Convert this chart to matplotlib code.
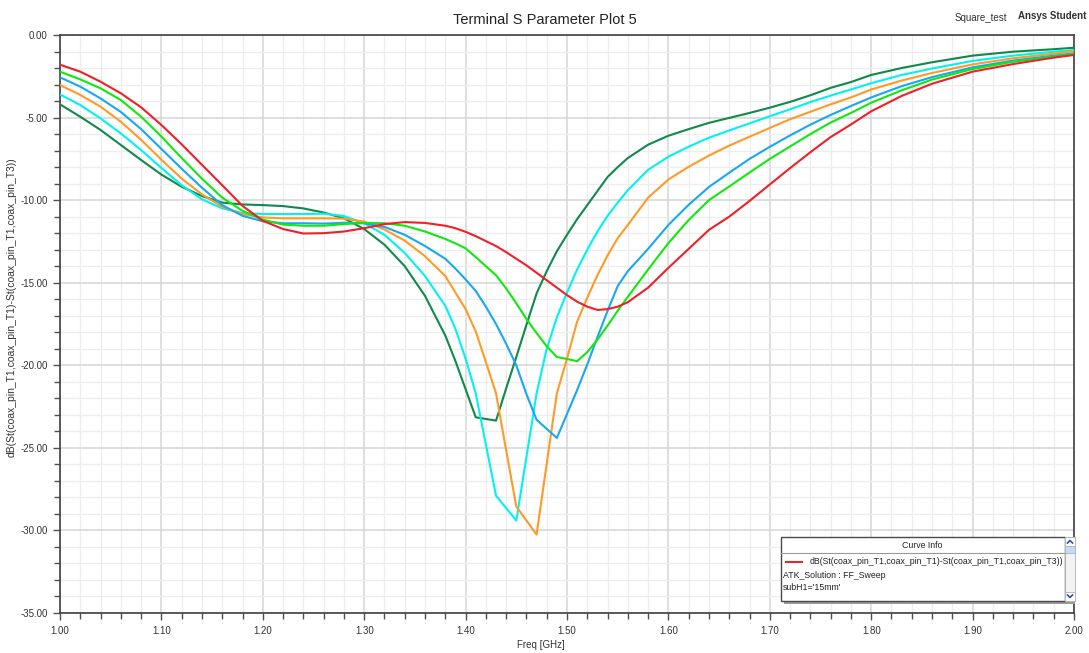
import matplotlib
matplotlib.use("Agg")
import matplotlib.pyplot as plt
from matplotlib.ticker import MultipleLocator, FormatStrFormatter
from matplotlib.patches import Rectangle

plt.rcParams['font.family'] = ['Liberation Sans', 'DejaVu Sans']

# ---------------- data ----------------
freq = [1.00, 1.02, 1.04, 1.06, 1.08, 1.10, 1.12, 1.14, 1.16, 1.18,
        1.20, 1.22, 1.24, 1.26, 1.28, 1.30, 1.32, 1.34, 1.36, 1.38,
        1.39, 1.40, 1.41, 1.42, 1.43, 1.44, 1.45, 1.46, 1.47, 1.48,
        1.49, 1.50, 1.51, 1.52, 1.53, 1.54, 1.55, 1.56, 1.58, 1.60,
        1.62, 1.64, 1.66, 1.68, 1.70, 1.72, 1.74, 1.76, 1.78, 1.80,
        1.83, 1.86, 1.90, 1.94, 1.98, 2.00]

db_red = [-1.80, -2.22, -2.83, -3.53, -4.38, -5.45, -6.62, -7.86, -9.10, -10.35,
          -11.25, -11.75, -12.02, -12.00, -11.90, -11.70, -11.45, -11.33, -11.38, -11.55,
          -11.70, -11.92, -12.18, -12.48, -12.78, -13.15, -13.55, -13.95, -14.40, -14.85,
          -15.30, -15.75, -16.15, -16.45, -16.65, -16.60, -16.45, -16.18, -15.30, -14.10,
          -12.95, -11.80, -11.00, -10.05, -9.05, -8.06, -7.10, -6.18, -5.42, -4.62,
          -3.69, -2.95, -2.22, -1.76, -1.37, -1.21]

db_green = [-2.22, -2.69, -3.23, -3.94, -4.95, -6.15, -7.45, -8.70, -9.85, -10.65,
            -11.18, -11.48, -11.55, -11.55, -11.45, -11.38, -11.40, -11.55, -11.90, -12.35,
            -12.62, -12.92, -13.45, -14.00, -14.55, -15.35, -16.25, -17.20, -18.05, -18.85,
            -19.50, -19.62, -19.75, -19.20, -18.45, -17.60, -16.70, -15.85, -14.20, -12.60,
            -11.20, -10.00, -9.17, -8.33, -7.50, -6.75, -6.00, -5.30, -4.72, -4.10,
            -3.35, -2.70, -2.06, -1.62, -1.31, -1.15]

db_blue = [-2.56, -3.13, -3.84, -4.66, -5.70, -6.90, -8.10, -9.25, -10.30, -10.95,
           -11.28, -11.40, -11.40, -11.42, -11.37, -11.40, -11.62, -12.10, -12.78, -13.55,
           -14.15, -14.80, -15.50, -16.45, -17.50, -18.70, -20.00, -21.75, -23.30, -23.85,
           -24.40, -22.95, -21.50, -19.95, -18.30, -16.70, -15.20, -14.30, -12.95, -11.50,
           -10.28, -9.20, -8.34, -7.50, -6.77, -6.08, -5.43, -4.84, -4.30, -3.78,
           -3.10, -2.55, -1.96, -1.55, -1.25, -1.11]

db_orange = [-3.03, -3.63, -4.34, -5.25, -6.35, -7.55, -8.70, -9.65, -10.40, -10.85,
             -11.05, -11.10, -11.10, -11.10, -11.12, -11.30, -11.78, -12.45, -13.40, -14.60,
             -15.60, -16.60, -17.95, -19.80, -21.70, -25.15, -28.55, -29.40, -30.25, -25.95,
             -21.70, -19.60, -17.35, -15.90, -14.55, -13.35, -12.30, -11.50, -9.85, -8.75,
             -7.98, -7.30, -6.70, -6.16, -5.63, -5.10, -4.65, -4.20, -3.78, -3.30,
             -2.76, -2.30, -1.78, -1.41, -1.13, -0.97]

db_cyan = [-3.60, -4.24, -5.05, -5.96, -6.97, -8.05, -9.10, -9.95, -10.50, -10.78,
           -10.84, -10.84, -10.84, -10.82, -10.96, -11.40, -12.10, -13.20, -14.60, -16.40,
           -17.80, -19.60, -21.70, -24.80, -27.90, -28.65, -29.40, -25.55, -21.70, -19.00,
           -17.10, -15.60, -14.20, -13.00, -11.90, -10.95, -10.15, -9.40, -8.16, -7.37,
           -6.76, -6.22, -5.78, -5.35, -4.92, -4.50, -4.06, -3.67, -3.30, -2.92,
           -2.42, -2.03, -1.57, -1.25, -1.01, -0.91]

db_dkgreen = [-4.20, -4.95, -5.75, -6.66, -7.57, -8.45, -9.19, -9.75, -10.15, -10.26,
              -10.30, -10.36, -10.50, -10.75, -11.10, -11.75, -12.70, -14.00, -15.80, -18.20,
              -19.75, -21.45, -23.15, -23.25, -23.35, -21.40, -19.50, -17.55, -15.65, -14.30,
              -13.10, -12.10, -11.15, -10.30, -9.45, -8.60, -8.00, -7.45, -6.64, -6.10,
              -5.70, -5.32, -5.02, -4.72, -4.40, -4.05, -3.65, -3.20, -2.85, -2.42,
              -2.00, -1.65, -1.25, -1.01, -0.86, -0.77]

series = [db_dkgreen, db_cyan, db_orange, db_blue, db_green, db_red]
colors = ['#0f8a4a', '#00f2f2', '#ff9a26', '#18a8f0', '#10e810', '#ee2028']

title = "Terminal S Parameter Plot 5"
ylabel = "dB(St(coax_pin_T1,coax_pin_T1)-St(coax_pin_T1,coax_pin_T3))"
xlabel = "Freq [GHz]"

# ---------------- figure ----------------
W, H = 1089, 653
fig = plt.figure(figsize=(W / 100, H / 100), dpi=100)
fig.patch.set_facecolor('white')

ax = fig.add_axes([60 / W, 1 - 613 / H, (1074 - 60) / W, (613 - 35) / H])
for y, c in zip(series, colors):
    ax.plot(freq, y, color=c, lw=1.5, zorder=3)

ax.set_xlim(1.0, 2.0)
ax.set_ylim(-35, 0)
ax.xaxis.set_major_locator(MultipleLocator(0.1))
ax.xaxis.set_minor_locator(MultipleLocator(0.02))
ax.yaxis.set_major_locator(MultipleLocator(5))
ax.yaxis.set_minor_locator(MultipleLocator(1))
ax.xaxis.set_major_formatter(FormatStrFormatter('%.2f'))
ax.yaxis.set_major_formatter(FormatStrFormatter('%.2f'))
ax.grid(which='minor', color='#ededed', lw=0.9, zorder=0)
ax.grid(which='major', color='#d6d6d6', lw=1.1, zorder=0)
ax.set_axisbelow(True)
ax.tick_params(which='both', direction='out', color='#505050', width=1.0,
               labelsize=7, labelcolor='#333333')
ax.tick_params(which='major', length=5, pad=4)
ax.tick_params(which='minor', length=4)
for s in ax.spines.values():
    s.set_color('#404040')
    s.set_linewidth(1.2)

fig.text(541 / W, 1 - 645 / H, xlabel, ha='center', va='center', fontsize=7, color='#333333')
fig.text(12 / W, 1 - 307 / H, ylabel, ha='center', va='center', rotation=90,
         fontsize=7.5, color='#333333')

fig.text(545 / W, 1 - 20 / H, title, ha='center', va='center', fontsize=10.5, color='#222222')
fig.text(981 / W, 1 - 18 / H, "Square_test", ha='center', va='center', fontsize=7, color='#333333')
fig.text(1052 / W, 1 - 16 / H, "Ansys Student", ha='center', va='center', fontsize=7,
         color='#333333', fontweight='bold')

# ---------------- "Curve Info" box ----------------
ov = fig.add_axes([0, 0, 1, 1], zorder=10)
ov.set_xlim(0, W)
ov.set_ylim(H, 0)
ov.axis('off')
ov.patch.set_alpha(0)

ov.add_patch(Rectangle((784, 540), 291, 64, facecolor='#9a9a9a', edgecolor='none'))
ov.add_patch(Rectangle((781, 537), 284, 64, facecolor='white', edgecolor='#4a4a4a', lw=1))
# scrollbar
ov.add_patch(Rectangle((1065, 537), 10, 64, facecolor='#f2f2f2', edgecolor='#b0b0b0', lw=0.6))
ov.add_patch(Rectangle((1065, 537), 10, 9, facecolor='#ffffff', edgecolor='#b0b0b0', lw=0.6))
ov.add_patch(Rectangle((1065, 546), 10, 7, facecolor='#c9d9f2', edgecolor='#9fb7de', lw=0.6))
ov.add_patch(Rectangle((1065, 592), 10, 9, facecolor='#ffffff', edgecolor='#b0b0b0', lw=0.6))
ov.plot([1067.5, 1070, 1072.5], [543, 540.5, 543], color='#2a52a8', lw=1.2)
ov.plot([1067.5, 1070, 1072.5], [595, 597.5, 595], color='#2a52a8', lw=1.2)

ov.text(922, 546, "Curve Info", ha='center', va='center', fontsize=6.3, color='#222222')
ov.plot([781, 1065], [553, 553], color='#9a9a9a', lw=0.8)
ov.plot([786, 802], [562, 562], color=colors[-1], lw=1.5)
ov.text(810, 562, ylabel, ha='left', va='center', fontsize=6.3, color='#222222')
ov.text(783, 575, "ATK_Solution : FF_Sweep", ha='left', va='center', fontsize=6.3, color='#222222')
ov.text(783, 588, "subH1='15mm'", ha='left', va='center', fontsize=6.3, color='#222222')

fig.savefig('out.png', dpi=100, facecolor='white')
